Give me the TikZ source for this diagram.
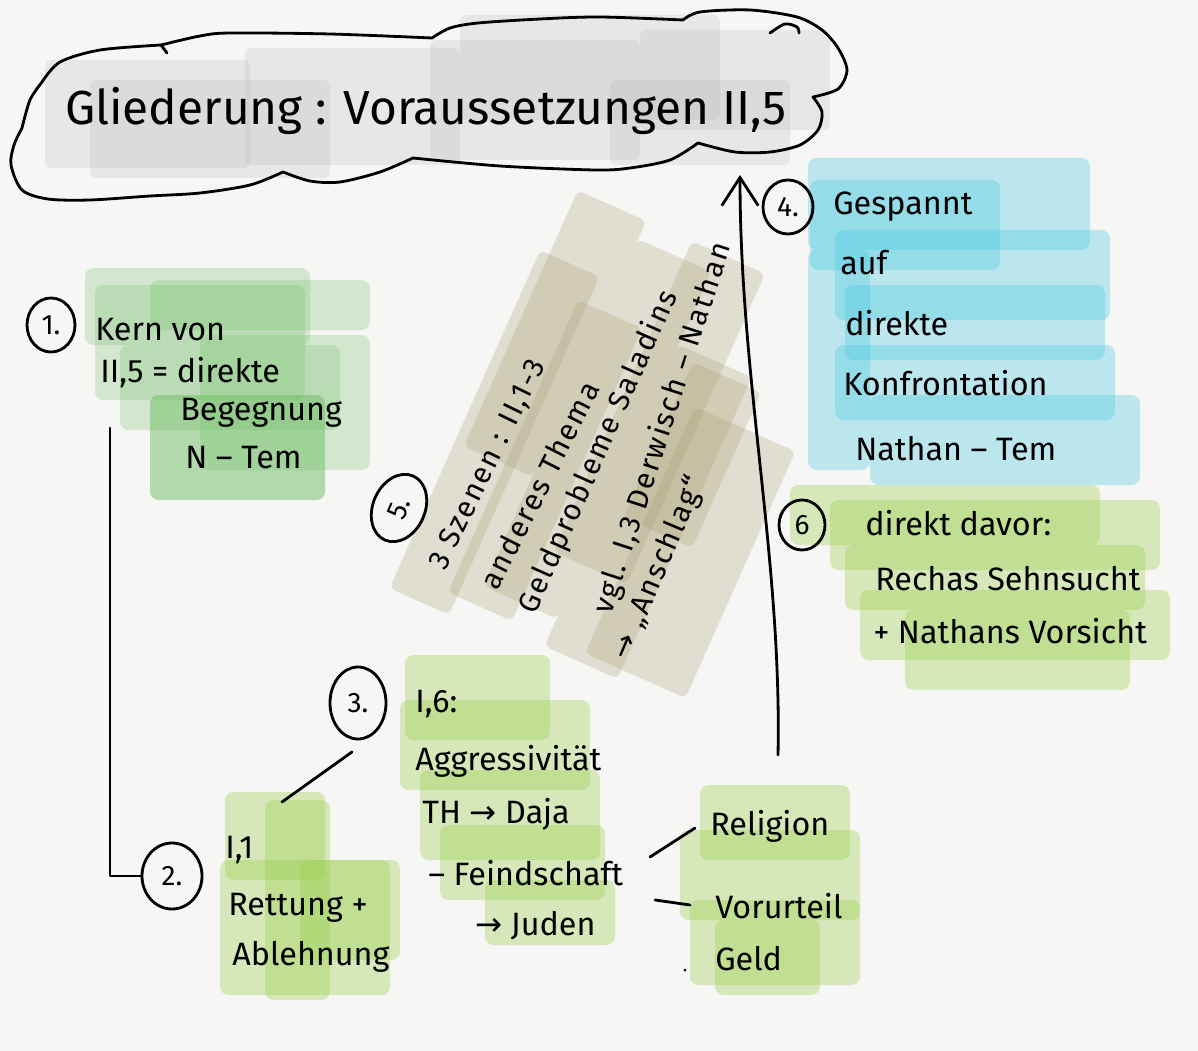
\documentclass[tikz,border=0pt]{standalone}
\usepackage{fontspec}
\setmainfont{Fira Sans}
\newfontfamily\arrowfont{DejaVu Sans}
\usetikzlibrary{arrows.meta,shapes.geometric}
\definecolor{paper}{RGB}{246,246,244}
\definecolor{washgray}{RGB}{160,160,160}
\definecolor{washgreen}{RGB}{110,190,100}
\definecolor{washlime}{RGB}{150,205,70}
\definecolor{washcyan}{RGB}{70,200,225}
\definecolor{washtan}{RGB}{170,160,115}
\newcommand{\arr}{{\arrowfont →}}
\begin{document}
\begin{tikzpicture}[x=0.025cm,y=-0.025cm,
  ink/.style={line width=2pt, line cap=round, line join=round},
  hw/.style={inner sep=0pt, anchor=base west, font=\fontsize{23}{27}\selectfont},
  ttl/.style={inner sep=0pt, anchor=base west, font=\fontsize{34}{40}\selectfont},
  rot/.style={inner sep=0pt, anchor=base west, font=\fontsize{21}{25}\selectfont\addfontfeatures{LetterSpace=7}},
  num/.style={draw, ellipse, line width=2pt, inner sep=0pt, font=\fontsize{20}{24}\selectfont},
  wgray/.style={fill=washgray, fill opacity=0.17, rounded corners=4pt},
  wgreen/.style={fill=washgreen, fill opacity=0.25, rounded corners=6pt},
  wlime/.style={fill=washlime, fill opacity=0.33, rounded corners=6pt},
  wcyan/.style={fill=washcyan, fill opacity=0.33, rounded corners=6pt},
  wtan/.style={fill=washtan, fill opacity=0.28, rounded corners=4pt}
]
\useasboundingbox (0,0) rectangle (1198,1051);
\fill[paper] (0,0) rectangle (1198,1051);

% ---------- washes ----------
% title cloud
\fill[wgray] (45,60) rectangle (250,168);
\fill[wgray] (90,80) rectangle (330,178);
\fill[wgray] (245,48) rectangle (460,165);
\fill[wgray] (430,40) rectangle (640,160);
\fill[wgray] (460,15) rectangle (720,120);
\fill[wgray] (640,30) rectangle (830,130);
\fill[wgray] (610,80) rectangle (790,165);
% box 1
\fill[wgreen] (85,268) rectangle (310,345);
\fill[wgreen] (95,285) rectangle (305,400);
\fill[wgreen] (150,280) rectangle (370,330);
\fill[wgreen] (120,345) rectangle (340,430);
\fill[wgreen] (200,335) rectangle (370,470);
\fill[wgreen, fill opacity=0.5] (150,395) rectangle (325,500);
% box 2
\fill[wlime] (225,792) rectangle (325,880);
\fill[wlime] (265,800) rectangle (330,1000);
\fill[wlime] (220,860) rectangle (390,995);
\fill[wlime] (300,860) rectangle (400,960);
% box 3
\fill[wlime] (405,655) rectangle (550,740);
\fill[wlime] (400,700) rectangle (590,790);
\fill[wlime] (420,770) rectangle (600,860);
\fill[wlime] (440,825) rectangle (605,900);
\fill[wlime] (485,880) rectangle (615,945);
% religion box
\fill[wlime] (700,785) rectangle (850,860);
\fill[wlime] (680,830) rectangle (860,920);
\fill[wlime] (690,900) rectangle (860,985);
\fill[wlime] (715,920) rectangle (820,995);
% box 4
\fill[wcyan] (808,158) rectangle (1090,250);
\fill[wcyan] (810,180) rectangle (1000,270);
\fill[wcyan] (808,250) rectangle (870,470);
\fill[wcyan] (835,230) rectangle (1110,320);
\fill[wcyan] (845,285) rectangle (1105,360);
\fill[wcyan] (835,345) rectangle (1115,420);
\fill[wcyan] (870,395) rectangle (1140,485);
% box 6
\fill[wlime] (790,485) rectangle (1100,545);
\fill[wlime] (830,500) rectangle (1160,570);
\fill[wlime] (845,545) rectangle (1145,610);
\fill[wlime] (860,590) rectangle (1170,660);
\fill[wlime] (905,610) rectangle (1130,690);
% box 5 (rotated)
\begin{scope}[shift={(447,570)}, rotate=66]
  \fill[wtan] (-40,-45) rectangle (330,20);
  \fill[wtan] (120,-35) rectangle (400,40);
  \fill[wtan] (-20,10) rectangle (300,80);
  \fill[wtan] (0,40) rectangle (380,120);
  \fill[wtan] (60,90) rectangle (400,170);
  \fill[wtan] (-30,120) rectangle (300,200);
  \fill[wtan] (-20,160) rectangle (250,270);
  \fill[wtan] (120,140) rectangle (290,215);
\end{scope}

% ---------- title cloud ----------
\draw[ink] plot[smooth] coordinates {(161,45) (200,36) (230,33) (330,34) (432,38)}
  -- plot[smooth] coordinates {(432,38) (450,28) (478,23) (540,19) (600,17) (683,20)}
  -- plot[smooth] coordinates {(683,20) (700,12) (750,10) (797,17) (822,30) (838,48) (847,70) (838,89) (813,97)}
  -- plot[smooth] coordinates {(813,97) (822,112) (818,130) (800,145) (770,152) (735,152) (698,143)}
  -- plot[smooth] coordinates {(698,143) (670,160) (630,168) (595,170) (500,166) (413,158)}
  -- plot[smooth] coordinates {(413,158) (380,172) (340,182) (310,181) (283,172)}
  -- plot[smooth] coordinates {(283,172) (250,185) (200,193) (150,196) (90,200) (48,199) (22,190) (11,165) (14,145) (22,128)}
  -- plot[smooth] coordinates {(22,128) (30,100) (42,82)}
  -- plot[smooth] coordinates {(42,82) (60,62) (100,50) (161,45)};
\draw[ink] (161,45) -- (167,53);
\draw[ink] plot[smooth] coordinates {(770,33) (785,24) (797,27) (799,33)};
\node[ttl] (title) at (65,125) {Gliederung : Voraussetzungen II,5};

% ---------- number circles ----------
\node[num, minimum width=1.2cm, minimum height=1.35cm] (n1) at (51,325) {1.};
\node[num, minimum width=1.5cm, minimum height=1.65cm] (n2) at (172,876) {2.};
\node[num, minimum width=1.4cm, minimum height=1.8cm] (n3) at (358,703) {3.};
\node[num, minimum width=1.25cm, minimum height=1.35cm] (n4) at (788,207) {4.};
\node[num, minimum width=1.75cm, minimum height=1.3cm, rotate=66] (n5) at (399,508) {5.};
\node[num, minimum width=1.15cm, minimum height=1.25cm] (n6) at (802,525) {6};

% ---------- box 1 ----------
\node[hw] (t1a) at (95,340) {Kern von};
\node[hw] (t1b) at (100,382) {II,5 = direkte};
\node[hw] (t1c) at (180,420) {Begegnung};
\node[hw] (t1d) at (185,468) {N – Tem};

% ---------- box 2 ----------
\node[hw] (t2a) at (225,858) {I,1};
\node[hw] (t2b) at (228,915) {Rettung +};
\node[hw] (t2c) at (232,965) {Ablehnung};

% ---------- box 3 ----------
\node[hw] (t3a) at (415,712) {I,6:};
\node[hw] (t3b) at (415,770) {Aggressivität};
\node[hw] (t3c) at (422,823) {TH \arr\ Daja};
\node[hw] (t3d) at (428,885) {– Feindschaft};
\node[hw] (t3e) at (475,935) {\arr\ Juden};
\node[hw] (t3f) at (710,835) {Religion};
\node[hw] (t3g) at (715,918) {Vorurteil};
\node[hw] (t3h) at (715,970) {Geld};
\fill (685,970) circle (1.5);

% ---------- box 4 ----------
\node[hw] (t4a) at (833,215) {Gespannt};
\node[hw] (t4b) at (840,275) {auf};
\node[hw] (t4c) at (845,335) {direkte};
\node[hw] (t4d) at (843,395) {Konfrontation};
\node[hw] (t4e) at (855,460) {Nathan – Tem};

% ---------- box 6 ----------
\node[hw] (t6a) at (865,535) {direkt davor:};
\node[hw] (t6b) at (875,590) {Rechas Sehnsucht};
\node[hw] (t6c) at (873,643) {+ Nathans Vorsicht};

% ---------- box 5 (rotated) ----------
\node[rot, rotate=64] (t5a) at (445,572) {3 Szenen : II,1-3};
\node[rot, rotate=63] (t5b) at (497,592) {anderes Thema};
\node[rot, rotate=66] (t5c) at (535,616) {Geldprobleme Saladins};
\node[rot, rotate=72] (t5d) at (611,616) {vgl. I,3 Derwisch – Nathan};
\node[rot, rotate=67] (t5e) at (628,662) {\arr\ „Anschlag“};

% ---------- connectors ----------
\coordinate (k1) at (110,428);
\draw[ink] (k1) |- (n2.west);
\coordinate (k3a) at (352,752);
\coordinate (k3b) at (282,802);
\draw[ink] (k3a) -- (k3b);
\coordinate (f1) at (650,857);
\coordinate (f2) at (695,828);
\coordinate (f3) at (655,900);
\coordinate (f4) at (690,905);
\draw[ink] (f1) -- (f2);
\draw[ink] (f3) -- (f4);
\coordinate (a0) at (778,755);
\coordinate (a1) at (740,175);
\draw[ink, -{Straight Barb[length=20pt,width=26pt]}] (a0) .. controls (782,560) and (740,380) .. (a1);
\end{tikzpicture}
\end{document}
